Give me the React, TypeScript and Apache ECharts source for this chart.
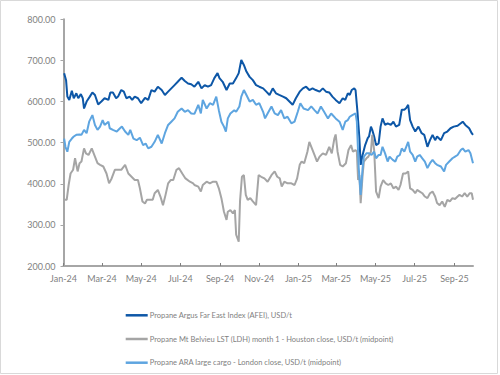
import React, { useEffect, useRef } from "react";
import * as echarts from "echarts";

// Day offsets from 2024-01-01 and values (USD/t)
const afeiDays = [1,4,6,9,13,16,20,23,27,30,32,36,41,45,49,54,59,64,70,73,77,82,85,90,94,98,103,107,111,116,121,127,132,137,142,147,153,158,163,168,173,178,184,189,194,199,
  204,210,215,220,225,230,235,240,243,248,254,259,264,269,273,277,281,285,290,295,300,305,311,316,321,326,331,336,342,347,352,357,362,368,373,378,383,388,393,399,404,409,
  414,419,424,430,435,439,443,446,449,453,455,458,461,463,466,470,474,476,479,481,484,487,491,494,497,501,505,510,514,518,523,527,531,534,537,540,544,548,553,558,562,567,571,575,579,582,588,593,598,603,608,614,619,622,626,632,636,638];
const afeiValues = [669,652,612,604,626,608,620,608,618,608,583,600,612,622,616,593,600,608,604,622,622,608,612,628,624,608,612,604,612,608,596,609,604,628,624,636,628,616,624,632,640,648,658,650,644,642,
  636,648,632,640,636,640,657,669,657,648,628,644,644,657,669,701,689,673,660,652,640,636,632,624,616,632,620,616,612,608,600,592,608,624,632,636,628,632,628,624,632,624,
  622,612,604,596,608,604,620,616,628,632,628,575,511,446,470,494,511,515,539,531,515,494,498,539,559,543,547,543,551,539,543,580,580,584,592,555,539,527,539,523,519,490,506,519,506,515,506,523,527,535,539,541,547,551,543,535,523,519];

const ldhDays = [1,5,8,11,15,18,22,25,28,32,35,39,44,49,53,57,62,67,71,75,80,85,90,96,101,106,111,116,119,123,127,130,134,139,142,147,151,155,159,163,167,171,176,180,185,190,197,202,
  204,210,214,217,223,228,233,238,242,246,250,254,256,260,264,267,269,273,275,278,281,284,287,291,295,300,304,308,313,318,324,329,333,337,340,344,349,355,360,364,368,371,375,380,383,387,391,395,399,404,409,414,418,422,424,
  427,431,435,440,444,448,451,455,457,459,461,463,466,468,472,475,479,481,484,487,491,494,498,502,506,510,514,518,522,525,529,533,537,540,544,548,551,555,559,563,567,571,575,579,582,586,590,594,598,602,606,610,614,617,621,625,629,633,636,638];
const ldhValues = [361,361,397,425,434,462,430,450,454,486,474,470,486,466,450,446,442,425,401,413,434,434,434,446,425,417,409,409,389,357,352,361,361,361,377,385,369,348,373,401,409,409,434,438,425,413,405,401,
  397,393,381,397,405,401,405,405,389,365,332,312,332,336,328,336,276,259,357,417,421,373,361,365,357,348,421,417,413,405,421,430,417,413,393,405,401,401,397,413,446,454,450,478,502,486,470,454,466,474,470,490,474,510,520,
  478,446,442,450,482,494,478,482,478,409,421,353,421,454,462,466,478,519,482,381,365,393,409,401,397,401,389,393,385,397,425,425,430,389,385,377,385,381,377,369,365,377,381,369,353,348,357,344,361,357,365,363,369,373,369,377,369,377,377,361];

const araDays = [1,3,6,9,13,16,20,25,28,32,36,40,45,49,53,57,61,64,70,72,77,83,88,91,96,101,104,109,114,119,124,128,132,137,142,147,153,158,163,168,173,178,184,189,194,199,
  204,210,214,217,223,228,233,238,242,246,250,253,256,260,266,269,274,277,281,285,290,295,300,305,311,314,318,324,329,334,339,344,349,355,360,365,369,374,381,386,391,396,401,406,412,
  417,424,430,435,439,443,446,450,455,457,460,463,466,468,472,476,480,484,487,491,494,497,501,505,508,513,517,520,524,527,531,534,537,540,544,548,551,555,559,563,567,571,575,579,582,588,593,596,601,606,610,614,619,622,626,631,634,638];
const araValues = [510,490,478,502,510,515,519,520,519,531,523,551,567,543,531,539,555,543,551,535,531,527,535,539,527,519,531,510,506,512,494,498,486,490,502,519,498,523,543,551,559,575,583,575,579,571,
  570,592,571,604,583,596,592,612,579,551,539,527,559,571,579,575,588,612,628,616,600,604,592,596,575,559,571,588,571,567,579,559,563,547,551,575,596,583,579,588,579,571,588,575,559,
  571,559,551,531,551,555,563,567,571,551,438,373,438,466,474,474,470,478,462,470,470,490,474,454,466,458,454,466,470,486,478,490,502,478,470,454,466,470,462,454,438,450,458,450,446,442,430,446,454,462,466,470,482,486,478,482,474,450];

const seriesNames = [
  "Propane Argus Far East Index (AFEI), USD/t",
  "Propane Mt Belvieu LST (LDH) month 1 - Houston close, USD/t (midpoint)",
  "Propane ARA large cargo - London close, USD/t (midpoint)",
];
const tickDates = ["2024-01-01","2024-03-01","2024-05-01","2024-07-01","2024-09-01","2024-11-01","2025-01-01","2025-03-01","2025-05-01","2025-07-01","2025-09-01"];
const monthNames = ["Jan","Feb","Mar","Apr","May","Jun","Jul","Aug","Sep","Oct","Nov","Dec"];
const yTicks = { min: 200, max: 800, interval: 100 };

const BASE = Date.UTC(2024, 0, 1);
const DAY = 86400000;
const toPairs = (days: number[], vals: number[]) => days.map((d, i) => [BASE + d * DAY, vals[i]]);

export default function App() {
  const ref = useRef<HTMLDivElement>(null);
  useEffect(() => {
    if (!ref.current) return;
    const chart = echarts.init(ref.current, null, { renderer: "svg" });
    const tickTimes = tickDates.map((s) => Date.parse(s + "T00:00:00Z"));
    const font = "Lato, 'Open Sans', sans-serif";
    const axisColor = "#a6a6a6";
    const labelColor = "#7f7f7f";
    chart.setOption({
      animation: false,
      backgroundColor: "#ffffff",
      textStyle: { fontFamily: font },
      grid: { left: 63.5, right: 27, top: 19.3, bottom: 109, containLabel: false },
      xAxis: {
        type: "value",
        min: BASE,
        max: BASE + afeiDays[afeiDays.length - 1] * DAY,
        axisLine: { show: true, lineStyle: { color: axisColor, width: 2 } },
        axisTick: { show: true, inside: true, length: 3, customValues: tickTimes, lineStyle: { color: "#7f7f7f", width: 1 } },
        axisLabel: {
          customValues: tickTimes,
          color: labelColor,
          fontSize: 9,
          fontFamily: font,
          margin: 8,
          formatter: (v: number) => {
            const d = new Date(v);
            return monthNames[d.getUTCMonth()] + "-" + String(d.getUTCFullYear()).slice(2);
          },
        },
        splitLine: { show: false },
      },
      yAxis: {
        type: "value",
        min: yTicks.min,
        max: yTicks.max,
        interval: yTicks.interval,
        axisLine: { show: true, lineStyle: { color: axisColor, width: 2 } },
        axisTick: { show: true, length: 3, lineStyle: { color: axisColor } },
        axisLabel: { color: labelColor, fontSize: 9, fontFamily: font, margin: 8, formatter: (v: number) => v.toFixed(2) },
        splitLine: { show: false },
      },
      legend: {
        orient: "vertical",
        left: 120.7,
        top: 305.3,
        itemWidth: 22,
        itemHeight: 2.5,
        itemGap: 13.7,
        icon: "rect",
        data: seriesNames,
        textStyle: { fontSize: 7.5, color: labelColor, fontFamily: font, lineHeight: 10, padding: [0, 0, 0, -3] },
      },
      graphic: [
        { type: "rect", shape: { x: 0.5, y: 0.5, width: 497, height: 373 }, style: { fill: "none", stroke: "#d9d9d9", lineWidth: 1 }, silent: true },
      ],
      series: [
        { name: seriesNames[0], type: "line", data: toPairs(afeiDays, afeiValues), showSymbol: false, symbol: "none", color: "#0d57a7", lineStyle: { width: 2, color: "#0d57a7" } },
        { name: seriesNames[1], type: "line", data: toPairs(ldhDays, ldhValues), showSymbol: false, symbol: "none", color: "#a5a5a5", lineStyle: { width: 2, color: "#a5a5a5" } },
        { name: seriesNames[2], type: "line", data: toPairs(araDays, araValues), showSymbol: false, symbol: "none", color: "#5ea5e0", lineStyle: { width: 2, color: "#5ea5e0" } },
      ],
    });
    return () => chart.dispose();
  }, []);
  return <div ref={ref} style={{ position: "fixed", left: 0, top: 0, width: 500, height: 375, background: "#fff" }} />;
}
